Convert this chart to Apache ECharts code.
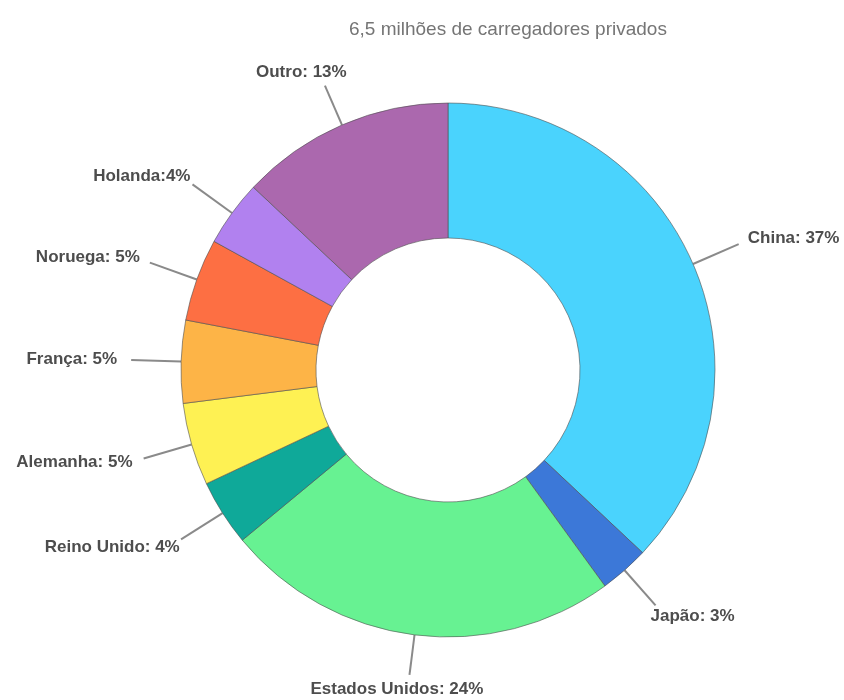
<!DOCTYPE html>
<html>
<head>
<meta charset="utf-8">
<title>Carregadores privados</title>
<script src="https://cdn.jsdelivr.net/npm/echarts@6/dist/echarts.min.js"></script>
<style>
  html, body { margin: 0; padding: 0; background: #ffffff; }
  #chart { width: 844px; height: 700px; }
</style>
</head>
<body>
<div id="chart"></div>
<script>
// Share of private chargers by country (percent)
var countries = ['China', 'Japão', 'Estados Unidos', 'Reino Unido', 'Alemanha', 'França', 'Noruega', 'Holanda', 'Outro'];
var shares = [37, 3, 24, 4, 5, 5, 5, 4, 13];
var labelTexts = ['China: 37%', 'Japão: 3%', 'Estados Unidos: 24%', 'Reino Unido: 4%', 'Alemanha: 5%', 'França: 5%', 'Noruega: 5%', 'Holanda:4%', 'Outro: 13%'];
var sliceColors = ['#4ad3fd', '#3c78d8', '#67f292', '#0fa999', '#fef153', '#fdb447', '#fd6f43', '#b181ef', '#ab68ae'];
var titleText = '6,5 milhões de carregadores privados';

var FONT = '"Liberation Sans", Arial, Helvetica, sans-serif';
var LINE_LEN = 50;  // leader length for horizontal leaders
var LINE_SHRINK = 10; // leaders pointing straight up/down are this much shorter
var GAP_X = 14;     // horizontal clearance between leader end and label box
var GAP_Y = 6;      // vertical clearance between leader end and label box

var dom = document.getElementById('chart');
var chart = echarts.init(dom, null, { renderer: 'canvas' });

var pieData = countries.map(function (name, i) {
  return { name: name, value: shares[i], itemStyle: { color: sliceColors[i] } };
});

chart.setOption({
  animation: false,
  title: {
    text: titleText,
    left: 344,
    top: 15,
    textStyle: { fontFamily: FONT, fontSize: 19, fontWeight: 'normal', color: '#757575' }
  },
  series: [{
    type: 'pie',
    center: [448, 370],
    radius: [132, 267],
    startAngle: 90,
    clockwise: true,
    avoidLabelOverlap: false,
    data: pieData,
    itemStyle: { borderColor: 'rgba(80,80,80,0.6)', borderWidth: 1 },
    label: {
      show: true,
      position: 'outside',
      formatter: function (p) { return labelTexts[p.dataIndex]; },
      fontFamily: FONT,
      fontSize: 17,
      fontWeight: 'bold',
      color: '#4d4d4d'
    },
    labelLine: {
      show: true,
      length: LINE_LEN,
      length2: 0,
      lineStyle: { color: '#8a8a8a', width: 2 }
    },
    // straight radial leaders; each label sits just beyond its leader's end,
    // kept inside the canvas by pulling the leader in when needed
    labelLayout: function (p) {
      var pts = p.labelLinePoints;
      if (!pts) return {};
      var a = pts[0], b = pts[pts.length - 1];
      var dx = b[0] - a[0], dy = b[1] - a[1];
      var len = Math.sqrt(dx * dx + dy * dy) || 1;
      dx /= len; dy /= len;
      var hw = p.labelRect.width / 2, hh = p.labelRect.height / 2;
      var L = LINE_LEN - LINE_SHRINK * Math.pow(dy, 4);
      var maxY = dom.clientHeight - hh;
      var cy = a[1] + dy * (L + hh + GAP_Y);
      if (cy > maxY && dy > 0) {
        L = (maxY - a[1]) / dy - hh - GAP_Y;
      }
      var ex = a[0] + dx * L, ey = a[1] + dy * L;
      return {
        x: ex + dx * (hw + GAP_X),
        y: ey + dy * (hh + GAP_Y),
        align: 'center',
        verticalAlign: 'middle',
        labelLinePoints: [[a[0], a[1]], [ex, ey], [ex, ey]]
      };
    }
  }]
});
</script>
</body>
</html>
